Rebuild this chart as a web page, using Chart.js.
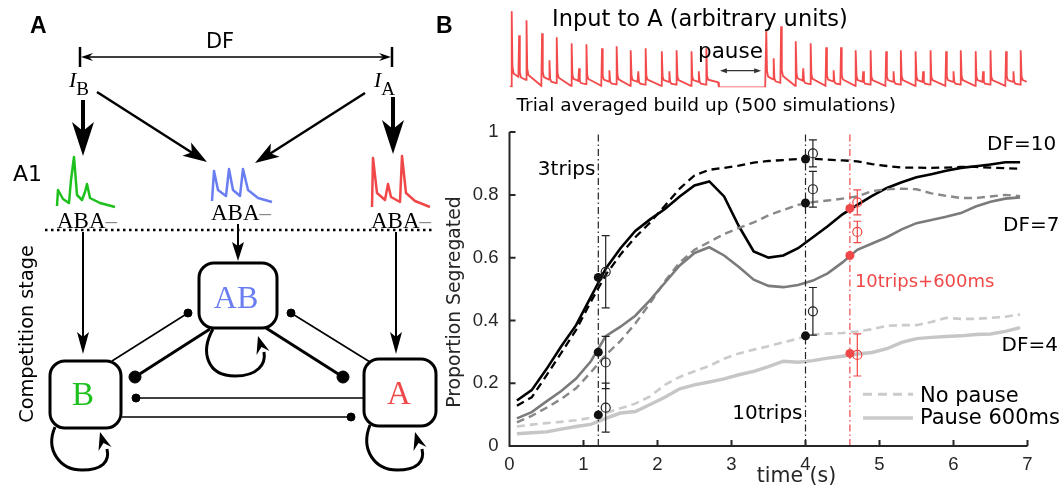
<!DOCTYPE html>
<html>
<head>
<meta charset="utf-8">
<script src="https://cdn.jsdelivr.net/npm/chart.js@4.4.1/dist/chart.umd.min.js"></script>
<style>
  html, body { margin: 0; padding: 0; background: #fff; }
  #wrap { position: relative; width: 1062px; height: 490px; overflow: hidden; background: #fff; }
  #inputChart { position: absolute; left: 440px; top: 0; }
  #mainChart { position: absolute; left: 440px; top: 110px; }
  #diagram { position: absolute; left: 0; top: 0; }
</style>
</head>
<body>
<div id="wrap">
<canvas id="inputChart" width="622" height="125"></canvas>
<canvas id="mainChart" width="622" height="380"></canvas>

<svg id="diagram" width="460" height="490" viewBox="0 0 460 490">
  <g font-family="Liberation Sans" font-weight="bold" font-size="23">
    <text x="30" y="33">A</text>
    <text x="436" y="33">B</text>
  </g>
  <!-- DF span -->
  <text x="220" y="48" font-family="DejaVu Sans" font-size="21" text-anchor="middle">DF</text>
  <line x1="86" y1="57" x2="386" y2="57" stroke="#000" stroke-width="1.5"/>
  <polygon points="81,57 93,53 89,57 93,61" fill="#000"/>
  <polygon points="391,57 379,53 383,57 379,61" fill="#000"/>
  <line x1="80" y1="47" x2="80" y2="67" stroke="#000" stroke-width="2.5"/>
  <line x1="392" y1="47" x2="392" y2="67" stroke="#000" stroke-width="2.5"/>

  <!-- inputs -->
  <g font-family="Liberation Serif" font-size="22">
    <text x="69" y="87"><tspan font-style="italic">I</tspan><tspan font-size="19" dy="8">B</tspan></text>
    <text x="374" y="87"><tspan font-style="italic">I</tspan><tspan font-size="19" dy="8">A</tspan></text>
  </g>
  <line x1="83" y1="100" x2="83" y2="135" stroke="#000" stroke-width="4"/>
  <polygon points="83,156 72,122 83,131 94,122" fill="#000"/>
  <line x1="393" y1="97" x2="393" y2="133" stroke="#000" stroke-width="4"/>
  <polygon points="393,154 382,120 393,129 404,120" fill="#000"/>
  <line x1="97" y1="92" x2="194" y2="154" stroke="#000" stroke-width="2.5"/>
  <polygon points="207,162 182.5,155.8 191.8,152.3 191.1,142.4" fill="#000"/>
  <line x1="365" y1="93" x2="268" y2="155" stroke="#000" stroke-width="2.5"/>
  <polygon points="255,163 279.5,156.8 270.2,153.3 270.9,143.4" fill="#000"/>

  <!-- A1 stage -->
  <text x="13" y="181" font-family="DejaVu Sans" font-size="22">A1</text>
  <g fill="none" stroke-width="2.5" stroke-linejoin="round">
    <polyline stroke="#1ec01e" points="57,206 58,190 63,199 69,203 71,180 74,157 77,195 82,200 85,192 87,184 90,198 100,203 115,207"/>
    <polyline stroke="#6a7ef2" points="212,201 214,171 218,190 226,196 229,169 233,190 240,196 243,169 248,190 258,198 272,202"/>
    <polyline stroke="#f04848" points="372,207 373,158 377,193 385,200 388,184 391,197 400,202 402,156 406,193 415,201 430,207"/>
  </g>
  <g font-family="Liberation Serif" font-size="23">
    <text x="57" y="228">ABA<tspan fill="#888">–</tspan></text>
    <text x="211" y="220">ABA<tspan fill="#888">–</tspan></text>
    <text x="371" y="228">ABA<tspan fill="#888">–</tspan></text>
  </g>
  <line x1="45" y1="230" x2="432" y2="230" stroke="#000" stroke-width="2.5" stroke-dasharray="2.5 3.5"/>

  <!-- competition stage -->
  <text transform="translate(32.5,334) rotate(-90)" text-anchor="middle" font-family="DejaVu Sans" font-size="19.3">Competition stage</text>
  <line x1="83" y1="232" x2="83" y2="340" stroke="#000" stroke-width="2"/>
  <polygon points="83,354 77,332 83,337 89,332" fill="#000"/>
  <line x1="396" y1="232" x2="396" y2="340" stroke="#000" stroke-width="2"/>
  <polygon points="396,354 390,332 396,337 402,332" fill="#000"/>
  <line x1="238" y1="224" x2="238" y2="250" stroke="#000" stroke-width="2"/>
  <polygon points="238,261 232,242 238,246 244,242" fill="#000"/>

  <!-- inhibitory links -->
  <g stroke="#000" fill="#000">
    <line x1="112" y1="361" x2="188" y2="313" stroke-width="1.6"/>
    <circle cx="188" cy="313" r="4"/>
    <line x1="370" y1="362" x2="291" y2="313" stroke-width="1.6"/>
    <circle cx="291" cy="313" r="4"/>
    <line x1="210" y1="329" x2="135" y2="377" stroke-width="3"/>
    <circle cx="135" cy="377" r="6"/>
    <line x1="266" y1="328" x2="343" y2="377" stroke-width="3"/>
    <circle cx="343" cy="377" r="6"/>
    <line x1="363" y1="398" x2="136" y2="398" stroke-width="1.6"/>
    <circle cx="136" cy="398" r="4"/>
    <line x1="122" y1="417" x2="351" y2="417" stroke-width="1.6"/>
    <circle cx="351" cy="417" r="4"/>
  </g>

  <!-- self loops -->
  <g fill="none" stroke="#000" stroke-width="3">
    <path d="M 213 329 C 200 352, 207 376, 235 376 C 258 376, 266 364, 264 352"/>
    <path d="M 55 427 C 45 450, 60 470, 82 470 C 102 470, 110 462, 107 449"/>
    <path d="M 370 425 C 360 450, 375 470, 397 470 C 417 470, 425 462, 422 449"/>
  </g>
  <polygon points="258,336 269.5,351 261.5,347 256.5,355" fill="#000"/>
  <polygon points="100,432 111.5,447 103.5,443 98.5,451" fill="#000"/>
  <polygon points="415,432 426.5,447 418.5,443 413.5,451" fill="#000"/>

  <!-- boxes -->
  <g fill="#fff" stroke="#000" stroke-width="3">
    <rect x="199" y="263" width="78" height="65" rx="15"/>
    <rect x="50" y="361" width="71" height="67" rx="15"/>
    <rect x="364" y="359" width="72" height="67" rx="15"/>
  </g>
  <g font-family="Liberation Serif" text-anchor="middle">
    <text x="236" y="308" font-size="32" fill="#6a7ef2">AB</text>
    <text x="83" y="405" font-size="33" fill="#1ec01e">B</text>
    <text x="399" y="404" font-size="33" fill="#f04848">A</text>
  </g>
</svg>
</div>

<script>
// ---- Input to A: one peak height per tone, tones A-B-A in each triplet ----
const tripTimes = [0.03, 0.44, 0.84, 1.25, 1.64, 2.06, 2.46, 3.47, 3.87, 4.28, 4.68, 5.09, 5.49, 5.90, 6.30, 6.71];
const peakA1 = [76, 54, 44, 39, 37, 36, 36, 57, 46, 40, 37, 36, 36, 36, 36, 36];
const peakB  = [52, 27, 19, 17, 16, 16, 16, 29, 19, 17, 16, 16, 16, 16, 16, 16];
const peakA2 = [67, 50, 43, 41, 39, 37, 39, 61, 44, 40, 37, 37, 37, 37, 37, 37];
const toneStep = 0.1;
const pauseFrom = 2.83, pauseTo = 3.455;

// ---- Trial averaged build up ----
const sampleTimes = [0.1, 0.3, 0.5, 0.7, 0.9, 1.1, 1.3, 1.5, 1.7, 1.9, 2.1, 2.3, 2.5, 2.7, 2.9, 3.1, 3.3, 3.5,
  3.7, 3.9, 4.1, 4.3, 4.5, 4.7, 4.9, 5.1, 5.3, 5.5, 5.7, 5.9, 6.1, 6.3, 6.5, 6.7, 6.9];
const df10NoPause = [0.128, 0.155, 0.225, 0.297, 0.37, 0.46, 0.545, 0.61, 0.665, 0.712, 0.765, 0.82, 0.862, 0.88,
  0.886, 0.893, 0.903, 0.908, 0.911, 0.914, 0.915, 0.912, 0.91, 0.907, 0.898, 0.892, 0.887, 0.887, 0.886, 0.887,
  0.889, 0.889, 0.887, 0.885, 0.883];
const df10Pause = [0.145, 0.178, 0.245, 0.318, 0.385, 0.475, 0.565, 0.63, 0.685, 0.722, 0.755, 0.795, 0.83, 0.843,
  0.795, 0.70, 0.62, 0.60, 0.607, 0.63, 0.665, 0.70, 0.738, 0.768, 0.797, 0.822, 0.84, 0.856, 0.866, 0.877,
  0.886, 0.891, 0.897, 0.904, 0.904];
const df7NoPause = [0.075, 0.096, 0.122, 0.15, 0.184, 0.235, 0.29, 0.335, 0.39, 0.455, 0.525, 0.585, 0.625, 0.65,
  0.675, 0.695, 0.712, 0.735, 0.752, 0.768, 0.777, 0.782, 0.788, 0.795, 0.812, 0.818, 0.82, 0.818, 0.805, 0.797,
  0.79, 0.79, 0.795, 0.8, 0.796];
const df7Pause = [0.088, 0.108, 0.142, 0.175, 0.215, 0.27, 0.35, 0.38, 0.415, 0.465, 0.52, 0.575, 0.615, 0.633,
  0.607, 0.57, 0.53, 0.51, 0.506, 0.513, 0.527, 0.55, 0.585, 0.625, 0.645, 0.665, 0.69, 0.71, 0.72, 0.73,
  0.742, 0.763, 0.778, 0.788, 0.792];
const df4NoPause = [0.062, 0.068, 0.073, 0.077, 0.082, 0.09, 0.105, 0.12, 0.135, 0.158, 0.195, 0.22, 0.238, 0.255,
  0.278, 0.295, 0.307, 0.318, 0.33, 0.342, 0.355, 0.358, 0.36, 0.365, 0.372, 0.383, 0.385, 0.385, 0.395, 0.408,
  0.405, 0.405, 0.408, 0.412, 0.419];
const df4Pause = [0.039, 0.042, 0.045, 0.054, 0.062, 0.069, 0.088, 0.105, 0.11, 0.132, 0.155, 0.182, 0.195, 0.204,
  0.214, 0.227, 0.238, 0.253, 0.27, 0.267, 0.272, 0.28, 0.286, 0.293, 0.298, 0.31, 0.33, 0.342, 0.346, 0.349,
  0.351, 0.355, 0.357, 0.365, 0.377];

// checkpoints: model (filled) and data with error bars (open)
const filledBlackT = [1.2, 1.2, 1.2, 4.0, 4.0, 4.0];
const filledBlackV = [0.537, 0.299, 0.099, 0.914, 0.774, 0.351];
const openBlackT = [1.3, 1.3, 1.3, 4.1, 4.1, 4.1];
const openBlackV = [0.555, 0.266, 0.122, 0.932, 0.818, 0.429];
const openBlackErr = [0.115, 0.083, 0.078, 0.043, 0.057, 0.076];
const filledRedT = [4.6, 4.6, 4.6];
const filledRedV = [0.757, 0.607, 0.295];
const openRedT = [4.7, 4.7, 4.7];
const openRedV = [0.776, 0.682, 0.29];
const openRedErr = [0.04, 0.034, 0.067];
const tripGuides = [1.2, 4.0];
const pauseGuide = 4.6;

const xTicks = [0, 1, 2, 3, 4, 5, 6, 7];
const yTicks = [0, 0.2, 0.4, 0.6, 0.8, 1];

const RED = '#f04848';
const AXIS = '#262626';

function series(values) {
  return sampleTimes.map((t, i) => ({ x: t, y: values[i] }));
}
function pairs(ts, vs) {
  return ts.map((t, i) => ({ x: t, y: vs[i] }));
}

// spike train from the read peak heights
function buildInputTrace() {
  const pts = [{ x: 0, y: 0.6 }];
  tripTimes.forEach((t0, i) => {
    [peakA1[i], peakB[i], peakA2[i]].forEach((h, k) => {
      const tp = t0 + k * toneStep;
      const rest = 0.17 * h + 1;
      pts.push({ x: tp - 0.004, y: pts[pts.length - 1].y });
      pts.push({ x: tp, y: h });
      pts.push({ x: tp + 0.01, y: rest * 1.5 });
      pts.push({ x: tp + 0.025, y: rest });
      if (k < 2) pts.push({ x: tp + toneStep - 0.01, y: rest * 0.75 });
    });
    const next = tripTimes[i + 1];
    if (next === undefined) {
      pts.push({ x: 6.99, y: 5.5 });
    } else if (next - t0 > 0.6) {
      pts.push({ x: pauseFrom - 0.012, y: 5 });
      pts.push({ x: pauseFrom, y: 0 });
      pts.push({ x: pauseTo, y: 0 });
    } else {
      pts.push({ x: next - 0.01, y: 1.5 });
    }
  });
  return pts;
}

Chart.defaults.font.family = 'DejaVu Sans';
Chart.defaults.color = AXIS;

// ---------- input trace ----------
const inputTexts = {
  id: 'inputTexts',
  afterDraw(chart) {
    const { ctx, scales: { x } } = chart;
    ctx.save();
    ctx.fillStyle = '#000';
    ctx.textBaseline = 'alphabetic';
    ctx.font = '22.5px "DejaVu Sans"';
    ctx.textAlign = 'left';
    ctx.fillText('Input to A (arbitrary units)', 112, 26);
    ctx.font = '21.5px "DejaVu Sans"';
    ctx.fillText('pause', 258, 58.3);
    ctx.font = '18.5px "DejaVu Sans"';
    ctx.fillText('Trial averaged build up (500 simulations)', 76.5, 110.5);
    // pause arrow
    const a = x.getPixelForValue(pauseFrom) + 1, b = x.getPixelForValue(pauseTo) - 4;
    const yy = 70.7;
    ctx.strokeStyle = '#333';
    ctx.fillStyle = '#333';
    ctx.lineWidth = 1.2;
    ctx.beginPath(); ctx.moveTo(a + 3, yy); ctx.lineTo(b - 3, yy); ctx.stroke();
    ctx.beginPath(); ctx.moveTo(a, yy); ctx.lineTo(a + 7, yy - 2.5); ctx.lineTo(a + 7, yy + 2.5); ctx.fill();
    ctx.beginPath(); ctx.moveTo(b, yy); ctx.lineTo(b - 7, yy - 2.5); ctx.lineTo(b - 7, yy + 2.5); ctx.fill();
    ctx.restore();
  }
};

new Chart(document.getElementById('inputChart'), {
  type: 'line',
  data: {
    datasets: [{
      data: buildInputTrace(),
      borderColor: '#f34a4c',
      borderWidth: 1.8,
      pointRadius: 0,
      tension: 0,
      fill: false
    }]
  },
  options: {
    responsive: false,
    animation: false,
    devicePixelRatio: 1,
    events: [],
    layout: { padding: { left: 69.5, right: 34.5, top: 7.3, bottom: 37.7 } },
    plugins: { legend: { display: false }, tooltip: { enabled: false } },
    scales: {
      x: { type: 'linear', min: 0, max: 7, display: false },
      y: { min: 0, max: 80, display: false }
    }
  },
  plugins: [inputTexts]
});

// ---------- main build-up chart ----------
function drawErrorBars(ctx, x, y, ts, vs, errs, color) {
  ctx.strokeStyle = color;
  ctx.lineWidth = 1.2;
  ts.forEach((t, i) => {
    const px = x.getPixelForValue(t);
    const top = y.getPixelForValue(vs[i] + errs[i]);
    const bot = y.getPixelForValue(vs[i] - errs[i]);
    ctx.beginPath();
    ctx.moveTo(px, top); ctx.lineTo(px, bot);
    ctx.moveTo(px - 4, top); ctx.lineTo(px + 4, top);
    ctx.moveTo(px - 4, bot); ctx.lineTo(px + 4, bot);
    ctx.stroke();
  });
}

const decor = {
  id: 'decor',
  afterDatasetsDraw(chart) {
    const { ctx, scales: { x, y } } = chart;
    ctx.save();
    drawErrorBars(ctx, x, y, openBlackT, openBlackV, openBlackErr, '#222');
    drawErrorBars(ctx, x, y, openRedT, openRedV, openRedErr, RED);
    ctx.restore();
  },
  afterDraw(chart) {
    const { ctx, chartArea: ca, scales: { x, y } } = chart;
    ctx.save();
    // spines and inward ticks
    ctx.strokeStyle = AXIS;
    ctx.lineWidth = 2;
    ctx.beginPath();
    ctx.moveTo(ca.left, ca.top); ctx.lineTo(ca.left, ca.bottom); ctx.lineTo(ca.right, ca.bottom);
    xTicks.forEach(t => {
      const px = x.getPixelForValue(t);
      ctx.moveTo(px, ca.bottom); ctx.lineTo(px, ca.bottom - 6);
    });
    yTicks.forEach(v => {
      const py = y.getPixelForValue(v);
      ctx.moveTo(ca.left, py); ctx.lineTo(ca.left + 6, py);
    });
    ctx.stroke();

    // axis titles
    ctx.fillStyle = AXIS;
    ctx.font = '20.5px "DejaVu Sans"';
    ctx.textAlign = 'center';
    ctx.textBaseline = 'middle';
    ctx.fillText('time (s)', x.getPixelForValue(3.5) + 28, 367);
    ctx.save();
    ctx.translate(19.6, (ca.top + ca.bottom) / 2 + 13);
    ctx.rotate(-Math.PI / 2);
    ctx.textBaseline = 'alphabetic';
    ctx.font = '18.8px "DejaVu Sans"';
    ctx.fillText('Proportion Segregated', 0, 0);
    ctx.restore();

    // annotations
    ctx.fillStyle = '#000';
    ctx.font = '20px "DejaVu Sans"';
    ctx.textAlign = 'right';
    ctx.fillText('3trips', x.getPixelForValue(1.2) - 3, y.getPixelForValue(0.88));
    ctx.fillText('10trips', x.getPixelForValue(4.0) - 3, y.getPixelForValue(0.102));
    ctx.textAlign = 'left';
    ctx.fillText('DF=10', ca.right - 40.5, y.getPixelForValue(0.96));
    ctx.fillText('DF=7', ca.right - 24.5, y.getPixelForValue(0.703));
    ctx.fillText('DF=4', ca.right - 26, y.getPixelForValue(0.319));
    ctx.fillStyle = RED;
    ctx.font = '18px "DejaVu Sans"';
    ctx.fillText('10trips+600ms', x.getPixelForValue(pauseGuide) + 5, y.getPixelForValue(0.523));

    // legend
    const lx0 = ca.right - 164.5, lx1 = ca.right - 114.5;
    const ly1 = y.getPixelForValue(0.165), ly2 = y.getPixelForValue(0.089);
    ctx.strokeStyle = '#cbcbcb';
    ctx.lineWidth = 3;
    ctx.setLineDash([9, 6]);
    ctx.beginPath(); ctx.moveTo(lx0, ly1); ctx.lineTo(lx1, ly1); ctx.stroke();
    ctx.setLineDash([]);
    ctx.lineWidth = 3.6;
    ctx.beginPath(); ctx.moveTo(lx0, ly2); ctx.lineTo(lx1, ly2); ctx.stroke();
    ctx.fillStyle = '#000';
    ctx.font = '21px "DejaVu Sans"';
    ctx.fillText('No pause', lx1 + 7, ly1 + 2);
    ctx.fillText('Pause 600ms', lx1 + 7, ly2);
    ctx.restore();
  }
};

function curve(values, color, width, dashed) {
  return {
    data: series(values),
    borderColor: color,
    borderWidth: width,
    borderDash: dashed ? [8, 5] : [],
    pointRadius: 0,
    tension: 0,
    fill: false,
    order: 3
  };
}
function guide(t, color) {
  return {
    data: [{ x: t, y: 0 }, { x: t, y: 1 }],
    borderColor: color,
    borderWidth: 1.2,
    borderDash: [7, 3, 1.5, 3],
    pointRadius: 0,
    fill: false,
    order: 2
  };
}
function marks(ts, vs, color, open) {
  return {
    data: pairs(ts, vs),
    showLine: false,
    pointRadius: 4.5,
    pointBackgroundColor: open ? 'rgba(0,0,0,0)' : color,
    pointBorderColor: color,
    pointBorderWidth: open ? 1.2 : 0,
    order: 1
  };
}

new Chart(document.getElementById('mainChart'), {
  type: 'line',
  data: {
    datasets: [
      marks(filledBlackT, filledBlackV, '#111', false),
      marks(openBlackT, openBlackV, '#222', true),
      marks(filledRedT, filledRedV, RED, false),
      marks(openRedT, openRedV, RED, true),
      guide(tripGuides[0], '#222'),
      guide(tripGuides[1], '#222'),
      guide(pauseGuide, RED),
      curve(df4Pause, '#c6c6c6', 3.4, false),
      curve(df4NoPause, '#cbcbcb', 2.6, true),
      curve(df7Pause, '#7b7b7b', 2.6, false),
      curve(df7NoPause, '#888888', 2.4, true),
      curve(df10NoPause, '#000000', 2.3, true),
      curve(df10Pause, '#000000', 2.6, false)
    ]
  },
  options: {
    responsive: false,
    animation: false,
    devicePixelRatio: 1,
    events: [],
    layout: { padding: { left: 0, right: 34.5, top: 13, bottom: 0 } },
    plugins: { legend: { display: false }, tooltip: { enabled: false } },
    scales: {
      x: {
        type: 'linear', min: 0, max: 7,
        afterFit: s => { s.height = 44; },
        afterBuildTicks: s => { s.ticks = xTicks.map(v => ({ value: v })); },
        grid: { display: false, drawTicks: false },
        border: { display: false },
        ticks: { padding: 8, color: AXIS, font: { family: 'Liberation Sans', size: 18.5 } }
      },
      y: {
        min: 0, max: 1,
        afterFit: s => { s.width = 69.5; },
        afterBuildTicks: s => { s.ticks = yTicks.map(v => ({ value: v })); },
        grid: { display: false, drawTicks: false },
        border: { display: false },
        ticks: {
          padding: 11, color: AXIS, font: { family: 'Liberation Sans', size: 18.5 },
          callback: v => String(Math.round(v * 10) / 10)
        }
      }
    }
  },
  plugins: [decor]
});
</script>
</body>
</html>
